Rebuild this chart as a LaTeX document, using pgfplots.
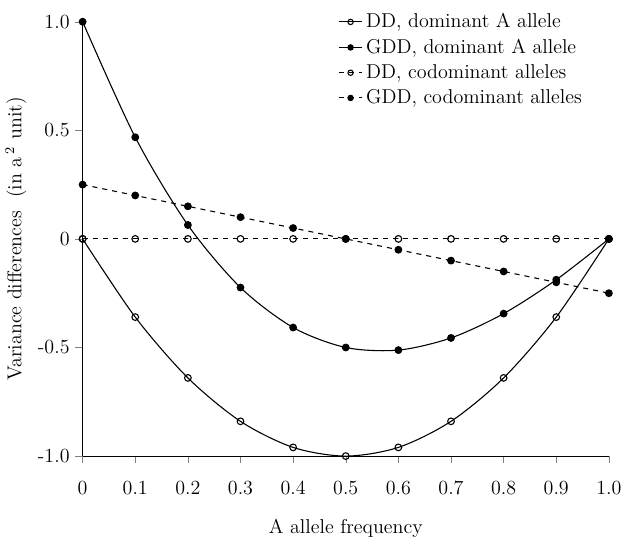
\documentclass[border=0pt]{standalone}
\usepackage{pgfplots}
\pgfplotsset{compat=1.18}
\begin{document}
\begin{tikzpicture}
\begin{axis}[
  scale only axis,
  width=315pt, height=260pt,
  xmin=0, xmax=1, ymin=-1, ymax=1,
  axis lines*=left,
  tick align=outside,
  xtick={0,0.1,0.2,0.3,0.4,0.5,0.6,0.7,0.8,0.9,1},
  xticklabels={0,0.1,0.2,0.3,0.4,0.5,0.6,0.7,0.8,0.9,1.0},
  ytick={-1,-0.5,0,0.5,1},
  yticklabels={-1.0,-0.5,0,0.5,1.0},
  xlabel={A allele frequency},
  ylabel={Variance differences \ (in a\,$^{2}$ unit)},
  every tick label/.append style={font=\large},
  label style={font=\large},
  xticklabel style={yshift=-7pt},
  xlabel style={yshift=-8pt},
  ylabel style={yshift=0pt},
  clip=false,
  legend cell align=left,
  legend style={draw=none, fill=none, at={(0.965,1.035)}, anchor=north east,
    font=\large, row sep=1.2pt},
  legend image code/.code={
    \draw[#1, mark size=1.6pt] (0pt,0pt) -- (14pt,0pt);
    \draw[#1, solid, mark size=1.6pt] plot coordinates {(7pt,0pt)};
  },
  every axis plot/.append style={line width=0.65pt, mark size=2pt},
]
\path (rel axis cs:0,1.05);
\addplot[black, smooth, mark=o, mark options={fill=white, solid}] coordinates {
  (0,0) (0.1,-0.36) (0.2,-0.64) (0.3,-0.84) (0.4,-0.96) (0.5,-1.0)
  (0.6,-0.96) (0.7,-0.84) (0.8,-0.64) (0.9,-0.36) (1.0,0)
};
\addlegendentry{DD, dominant A allele}
\addplot[black, smooth, mark=*, mark options={solid}] coordinates {
  (0,1.0) (0.1,0.468) (0.2,0.064) (0.3,-0.224) (0.4,-0.408) (0.5,-0.5)
  (0.6,-0.512) (0.7,-0.456) (0.8,-0.344) (0.9,-0.188) (1.0,0)
};
\addlegendentry{GDD, dominant A allele}
\addplot[black, dashed, mark=o, mark options={fill=white, solid}] coordinates {
  (0,0) (0.1,0) (0.2,0) (0.3,0) (0.4,0) (0.5,0)
  (0.6,0) (0.7,0) (0.8,0) (0.9,0) (1.0,0)
};
\addlegendentry{DD, codominant alleles}
\addplot[black, dashed, mark=*, mark options={solid}] coordinates {
  (0,0.25) (0.1,0.2) (0.2,0.15) (0.3,0.1) (0.4,0.05) (0.5,0)
  (0.6,-0.05) (0.7,-0.1) (0.8,-0.15) (0.9,-0.2) (1.0,-0.25)
};
\addlegendentry{GDD, codominant alleles}
\end{axis}
\end{tikzpicture}
\end{document}
